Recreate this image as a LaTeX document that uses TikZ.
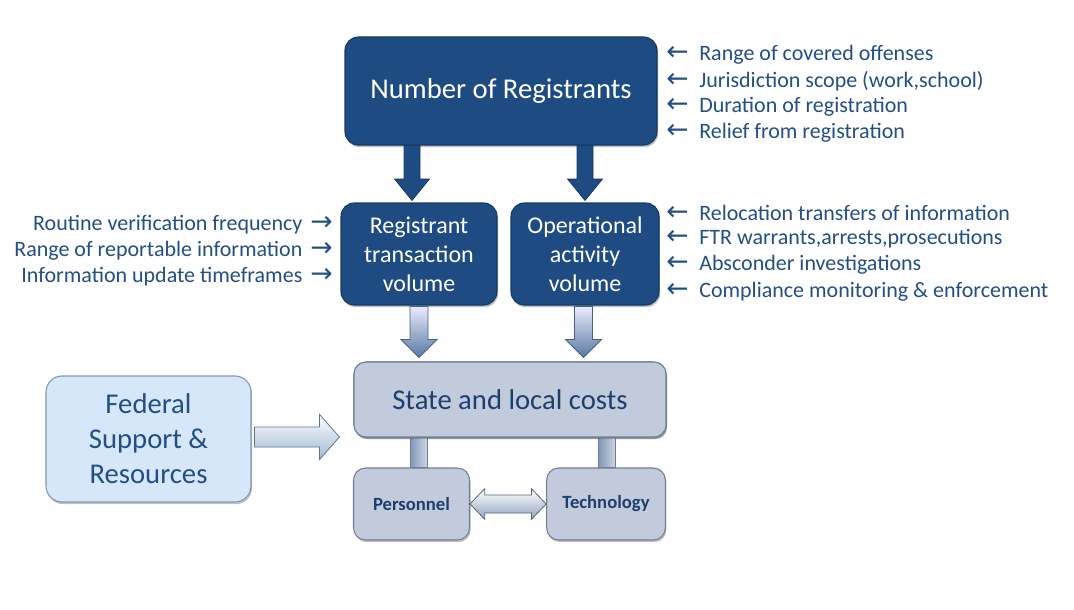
\documentclass[tikz,border=0pt]{standalone}
\usepackage{fontspec}
\setmainfont{Carlito}
\newfontfamily\symfont{DejaVu Sans}
\usetikzlibrary{shadows,calc}
\definecolor{dkb}{HTML}{1E4C82}
\definecolor{dkbline}{HTML}{163A66}
\definecolor{labc}{HTML}{234E86}
\definecolor{grayfill}{HTML}{C2CBDB}
\definecolor{grayline}{HTML}{6F7F98}
\definecolor{grtext}{HTML}{1E3F6E}
\definecolor{fedfill}{HTML}{D6E7FA}
\definecolor{fedline}{HTML}{7F96B5}
\newcommand{\rarr}{{\symfont\fontsize{20}{20}\selectfont→}}
\newcommand{\larr}{{\symfont\fontsize{20}{20}\selectfont←}}
\tikzset{
  shad/.style={drop shadow={shadow xshift=0.8pt,shadow yshift=-1.6pt,opacity=0.35,fill=black!70}},
  darkbox/.style={shad,fill=dkb,draw=dkbline,line width=0.8pt,rounded corners=10pt,text=white,align=center,inner sep=0pt},
  graybox/.style={shad,fill=grayfill,draw=grayline,line width=0.8pt,rounded corners=9pt,text=grtext,align=center,inner sep=0pt},
  fedbox/.style={shad,fill=fedfill,draw=fedline,line width=0.8pt,rounded corners=12pt,text=labc,align=center,inner sep=0pt},
  lab/.style={text=labc,font=\fontsize{16.5}{19}\selectfont,inner sep=0pt},
  vblock/.style n args={3}{to path={let \p1=(\tikztostart),\p2=(\tikztotarget) in
     (\x1-#1,\y1) -- (\x1-#1,\y2+#3) -- (\x1-#2,\y2+#3) -- (\x1,\y2) -- (\x1+#2,\y2+#3) -- (\x1+#1,\y2+#3) -- (\x1+#1,\y1) -- cycle}},
  hblock/.style n args={3}{to path={let \p1=(\tikztostart),\p2=(\tikztotarget) in
     (\x1,\y1-#1) -- (\x2-#3,\y1-#1) -- (\x2-#3,\y1-#2) -- (\x2,\y1) -- (\x2-#3,\y1+#2) -- (\x2-#3,\y1+#1) -- (\x1,\y1+#1) -- cycle}},
  dblock/.style n args={3}{to path={let \p1=(\tikztostart),\p2=(\tikztotarget) in
     (\x1,\y1) -- (\x1+#3,\y1+#2) -- (\x1+#3,\y1+#1) -- (\x2-#3,\y1+#1) -- (\x2-#3,\y1+#2) -- (\x2,\y1)
     -- (\x2-#3,\y1-#2) -- (\x2-#3,\y1-#1) -- (\x1+#3,\y1-#1) -- (\x1+#3,\y1-#2) -- cycle}},
  bar/.style n args={1}{to path={let \p1=(\tikztostart),\p2=(\tikztotarget) in
     (\x1-#1,\y1) rectangle (\x1+#1,\y2)}}
}
\begin{document}
\begin{tikzpicture}[x=0.75pt,y=-0.75pt]
\useasboundingbox (0,0) rectangle (1074,610);

% boxes
\node[darkbox,minimum width=234pt,minimum height=81pt,font=\fontsize{21.5}{24}\selectfont,text depth=3pt] (nor) at (501,91) {Number of Registrants};
\node[darkbox,minimum width=117pt,minimum height=76.5pt,font=\fontsize{18}{21.75}\selectfont] (reg) at (419,254) {Registrant\\transaction\\volume};
\node[darkbox,minimum width=111pt,minimum height=76.5pt,font=\fontsize{18}{21.75}\selectfont] (op) at (585,254) {Operational\\activity\\volume};
\node[graybox,minimum width=234pt,minimum height=56.25pt,font=\fontsize{21.5}{24}\selectfont] (slc) at (510,399.5) {State and local costs};
\node[fedbox,minimum width=153.75pt,minimum height=94.5pt,font=\fontsize{21.5}{26.25}\selectfont] (fed) at (148.5,439) {Federal\\Support \&\\Resources};
\node[graybox,minimum width=87pt,minimum height=54pt,font=\bfseries\fontsize{14}{16}\selectfont] (per) at (411.5,504) {Personnel};
\node[graybox,minimum width=89pt,minimum height=54pt,font=\bfseries\fontsize{14}{16}\selectfont] (tec) at (606,504) {Technology};

% dark block arrows
\coordinate (d1s) at ($(nor.south)+(-89,0)$);
\coordinate (d1e) at ($(reg.north)+(-7,-2)$);
\coordinate (d2s) at ($(nor.south)+(84,0)$);
\coordinate (d2e) at ($(op.north)+(0,-2)$);
\draw[fill=dkb,draw=dkbline,line width=0.6pt] (d1s) to[vblock={6pt}{13pt}{16pt}] (d1e);
\draw[fill=dkb,draw=dkbline,line width=0.6pt] (d2s) to[vblock={6pt}{13pt}{16pt}] (d2e);

% light block arrows
\coordinate (l1s) at ($(reg.south)+(0,1)$);
\coordinate (l1e) at ($(slc.north)+(-91,-4)$);
\coordinate (l2s) at ($(op.south)+(-1.5,1)$);
\coordinate (l2e) at ($(slc.north)+(73.5,-4)$);
\draw[top color=white!92!blue,bottom color=dkb!75,draw=dkbline!80,line width=0.6pt] (l1s) to[vblock={6.75pt}{13.5pt}{13.5pt}] (l1e);
\draw[top color=white!92!blue,bottom color=dkb!75,draw=dkbline!80,line width=0.6pt] (l2s) to[vblock={6.75pt}{13.5pt}{13.5pt}] (l2e);

% federal arrow
\coordinate (fs) at ($(fed.east)+(3,-2)$);
\coordinate (fe) at ($(slc.west)+(-14,35)$);
\draw[top color=white,bottom color=fedfill!70!dkb,draw=dkbline!70,line width=0.6pt] (fs) to[hblock={7.5pt}{17pt}{15pt}] (fs-|fe);

% bars between costs and personnel/technology
\coordinate (b1) at ($(per.north)+(7,0)$);
\coordinate (b2) at ($(tec.north)+(1,0)$);
\draw[left color=grayfill!60!dkb,right color=grayfill!80!white,draw=grayline,line width=0.6pt] (b1) to[bar={6.3pt}] (b1|-slc.south);
\draw[left color=grayfill!60!dkb,right color=grayfill!80!white,draw=grayline,line width=0.6pt] (b2) to[bar={6.3pt}] (b2|-slc.south);
\node[graybox,minimum width=234pt,minimum height=56.25pt,font=\fontsize{21.5}{24}\selectfont] at (slc) {State and local costs};

% double arrow
\coordinate (da) at (per.east);
\coordinate (db) at (tec.west);
\draw[top color=white,bottom color=grayfill!70!dkb,draw=grayline!80!black,line width=0.6pt] (da) to[dblock={6.75pt}{11.5pt}{11pt}] (db);

% left labels
\node[lab,anchor=east] (ll1) at (333,225) {Routine verification frequency\hspace{6pt}\rarr};
\node[lab,anchor=east] (ll2) at (333,251) {Range of reportable information\hspace{6pt}\rarr};
\node[lab,anchor=east] (ll3) at (333,277) {Information update timeframes\hspace{6pt}\rarr};

% right labels
\node[lab,anchor=west] (r1) at (666,55) {\larr\hspace{8pt}Range of covered offenses};
\node[lab,anchor=west] (r2) at (666,81) {\larr\hspace{8pt}Jurisdiction scope (work,school)};
\node[lab,anchor=west] (r3) at (666,107) {\larr\hspace{8pt}Duration of registration};
\node[lab,anchor=west] (r4) at (666,133) {\larr\hspace{8pt}Relief from registration};
\node[lab,anchor=west] (r5) at (666,213) {\larr\hspace{8pt}Relocation transfers of information};
\node[lab,anchor=west] (r6) at (666,239) {\larr\hspace{8pt}FTR warrants,arrests,prosecutions};
\node[lab,anchor=west] (r7) at (666,265) {\larr\hspace{8pt}Absconder investigations};
\node[lab,anchor=west] (r8) at (666,292) {\larr\hspace{8pt}Compliance monitoring \& enforcement};
\end{tikzpicture}
\end{document}
